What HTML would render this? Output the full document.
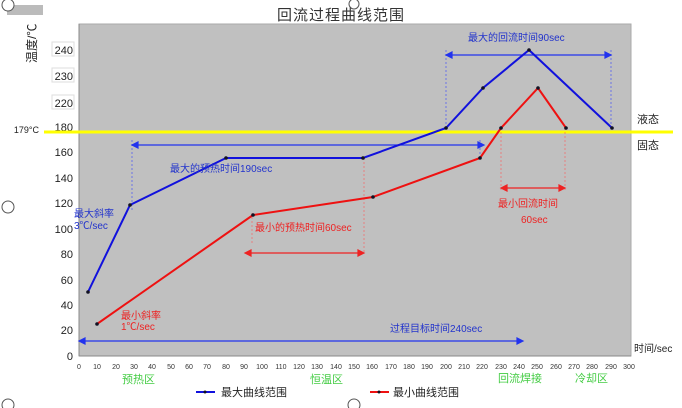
<!DOCTYPE html>
<html><head><meta charset="utf-8"><style>body{margin:0;background:#fff}svg{display:block}</style></head><body>
<svg width="682" height="408" xmlns="http://www.w3.org/2000/svg" font-family="Liberation Sans, Noto Sans CJK SC, sans-serif">
<rect x="7" y="5" width="36" height="10" fill="#bbb"/>
<circle cx="8" cy="5" r="6" fill="#fff" stroke="#555"/>
<circle cx="354" cy="4" r="5" fill="#fff" stroke="#555"/>
<circle cx="8" cy="207" r="6" fill="#fff" stroke="#555"/>
<circle cx="8" cy="405" r="6" fill="#fff" stroke="#555"/>
<circle cx="354" cy="405" r="6" fill="#fff" stroke="#555"/>
<text x="341" y="20" font-size="15" fill="#333" text-anchor="middle" letter-spacing="1">回流过程曲线范围</text>
<rect x="79" y="24" width="552" height="332" fill="#c0c0c0" stroke="#aaa"/>
<line x1="79" y1="24" x2="79" y2="356" stroke="#888"/>
<line x1="79" y1="356" x2="631" y2="356" stroke="#888"/>
<text x="36" y="63" font-size="12" fill="#222" transform="rotate(-90 36 63)">温度/℃</text>
<g font-size="11" fill="#222" text-anchor="end">
<rect x="52" y="42" width="22" height="14" fill="#fff" stroke="#ddd"/>
<rect x="52" y="68" width="22" height="14" fill="#fff" stroke="#ddd"/>
<rect x="52" y="95" width="22" height="14" fill="#fff" stroke="#ddd"/>
<text x="73" y="54">240</text><text x="73" y="80">230</text><text x="73" y="107">220</text>
<text x="73" y="131">180</text><text x="73" y="156">160</text><text x="73" y="182">140</text>
<text x="73" y="207">120</text><text x="73" y="233">100</text><text x="73" y="258">80</text>
<text x="73" y="284">60</text><text x="73" y="309">40</text><text x="73" y="334">20</text><text x="73" y="360">0</text>
<text x="39" y="133" font-size="9">179°C</text>
</g>
<g font-size="7" fill="#333" text-anchor="middle">
<text x="79" y="369">0</text><text x="97" y="369">10</text><text x="116" y="369">20</text><text x="134" y="369">30</text><text x="152" y="369">40</text><text x="171" y="369">50</text><text x="189" y="369">60</text><text x="207" y="369">70</text><text x="226" y="369">80</text><text x="244" y="369">90</text><text x="262" y="369">100</text><text x="281" y="369">110</text><text x="299" y="369">120</text><text x="317" y="369">130</text><text x="336" y="369">140</text><text x="354" y="369">150</text><text x="372" y="369">160</text><text x="391" y="369">170</text><text x="409" y="369">180</text><text x="427" y="369">190</text><text x="446" y="369">200</text><text x="464" y="369">210</text><text x="482" y="369">220</text><text x="501" y="369">230</text><text x="519" y="369">240</text><text x="537" y="369">250</text><text x="556" y="369">260</text><text x="574" y="369">270</text><text x="592" y="369">280</text><text x="611" y="369">290</text><text x="629" y="369">300</text>
</g>
<g font-size="11" fill="#44cc44">
<text x="122" y="383">预热区</text><text x="310" y="383">恒温区</text><text x="498" y="382">回流焊接</text><text x="575" y="382">冷却区</text>
</g>
<text x="634" y="352" font-size="10" fill="#222">时间/sec</text>
<text x="637" y="123" font-size="11" fill="#222">液态</text>
<text x="637" y="149" font-size="11" fill="#222">固态</text>
<line x1="44" y1="132" x2="673" y2="132" stroke="#ffff00" stroke-width="3"/>
<!-- dashed guides -->
<g stroke="#3344ff" stroke-width="0.6" stroke-dasharray="2,2">
<line x1="132" y1="140" x2="132" y2="210"/><line x1="446" y1="50" x2="446" y2="128"/><line x1="611" y1="50" x2="611" y2="128"/><line x1="480" y1="140" x2="480" y2="158"/>
</g>
<g stroke="#ff5555" stroke-width="0.6" stroke-dasharray="2,2">
<line x1="252" y1="213" x2="252" y2="245"/><line x1="364" y1="158" x2="364" y2="253"/><line x1="501" y1="128" x2="501" y2="190"/><line x1="565" y1="128" x2="565" y2="190"/>
</g>
<!-- arrows -->
<g stroke="#2233ee" stroke-width="1.2" fill="#2233ee">
<line x1="134" y1="145" x2="482" y2="145"/><path d="M132 145l6-3v6zM484 145l-6-3v6z"/>
<line x1="448" y1="55" x2="609" y2="55"/><path d="M446 55l6-3v6zM611 55l-6-3v6z"/>
<line x1="81" y1="341" x2="521" y2="341"/><path d="M79 341l6-3v6zM523 341l-6-3v6z"/>
</g>
<g stroke="#ee2222" stroke-width="1.2" fill="#ee2222">
<line x1="247" y1="253" x2="362" y2="253"/><path d="M245 253l6-3v6zM364 253l-6-3v6z"/>
<line x1="503" y1="188" x2="563" y2="188"/><path d="M501 188l6-3v6zM565 188l-6-3v6z"/>
</g>
<polyline points="88,292 130,205 226,158 363,158 446,128 483,88 529,50 612,128" fill="none" stroke="#1111dd" stroke-width="2"/>
<polyline points="97,324 253,215 373,197 480,158 501,128 538,88 566,128" fill="none" stroke="#ee1111" stroke-width="2"/>
<g fill="#112">
<circle cx="88" cy="292" r="1.8"/><circle cx="130" cy="205" r="1.8"/><circle cx="226" cy="158" r="1.8"/><circle cx="363" cy="158" r="1.8"/><circle cx="446" cy="128" r="1.8"/><circle cx="483" cy="88" r="1.8"/><circle cx="529" cy="50" r="1.8"/><circle cx="612" cy="128" r="1.8"/>
<circle cx="97" cy="324" r="1.8"/><circle cx="253" cy="215" r="1.8"/><circle cx="373" cy="197" r="1.8"/><circle cx="480" cy="158" r="1.8"/><circle cx="501" cy="128" r="1.8"/><circle cx="538" cy="88" r="1.8"/><circle cx="566" cy="128" r="1.8"/>
</g>
<g font-size="10" fill="#2233cc">
<text x="170" y="172">最大的预热时间190sec</text>
<text x="468" y="41">最大的回流时间90sec</text>
<text x="74" y="217">最大斜率</text><text x="74" y="229">3℃/sec</text>
<text x="390" y="332">过程目标时间240sec</text>
</g>
<g font-size="10" fill="#ee2222">
<text x="255" y="231">最小的预热时间60sec</text>
<text x="498" y="207">最小回流时间</text><text x="521" y="223">60sec</text>
<text x="121" y="319">最小斜率</text><text x="121" y="330">1℃/sec</text>
</g>
<line x1="196" y1="392" x2="215" y2="392" stroke="#1111dd" stroke-width="2"/><circle cx="205" cy="392" r="1.5" fill="#112"/>
<text x="221" y="396" font-size="11" fill="#222">最大曲线范围</text>
<line x1="370" y1="392" x2="389" y2="392" stroke="#ee1111" stroke-width="2"/><circle cx="379" cy="392" r="1.5" fill="#112"/>
<text x="393" y="396" font-size="11" fill="#222">最小曲线范围</text>
</svg>
</body></html>
